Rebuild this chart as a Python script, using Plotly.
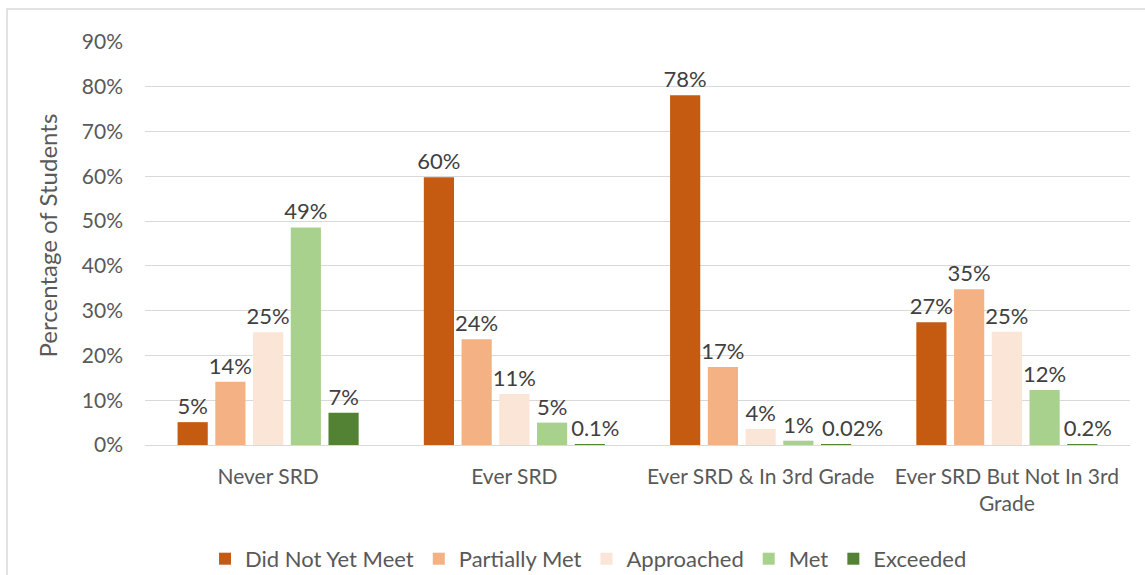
import plotly.graph_objects as go

categories = ["Never SRD", "Ever SRD", "Ever SRD & In 3rd Grade", "Ever SRD But Not In 3rd<br>Grade"]
series_names = ["Did Not Yet Meet", "Partially Met", "Approached", "Met", "Exceeded"]
did_not_yet_meet = [5.1, 59.8, 78.1, 27.4]
partially_met = [14.1, 23.6, 17.4, 34.8]
approached = [25.2, 11.4, 3.6, 25.3]
met = [48.6, 5.0, 0.96, 12.3]
exceeded = [7.2, 0.1, 0.02, 0.2]
tick_values = [0, 10, 20, 30, 40, 50, 60, 70, 80, 90]
tick_labels = ["0%", "10%", "20%", "30%", "40%", "50%", "60%", "70%", "80%", "90%"]

colors = ["#C55A11", "#F4B183", "#FBE5D6", "#A9D18E", "#548235"]
FONT = "Lato"


def label(v):
    # whole percents for larger shares; tiny shares keep their decimals and
    # are nudged right so they clear the neighbouring bar's label
    if round(v) >= 1:
        return f"{round(v):.0f}%"
    pad = "\u2002" if v >= 0.1 else "\u2002\u2002\u2002"
    if v >= 0.1:
        return f"{pad}{v:.1f}%"
    return f"{pad}{v:.2f}%"


fig = go.Figure()
for name, vals, col in zip(series_names,
                           [did_not_yet_meet, partially_met, approached, met, exceeded],
                           colors):
    fig.add_trace(go.Bar(
        name=name, x=categories, y=vals,
        marker=dict(color=col, line=dict(width=0)),
        text=[label(v) for v in vals],
        textposition="outside", cliponaxis=False, constraintext="none",
        textfont=dict(family=FONT, size=22, color="#404040"),
    ))

fig.update_layout(
    width=1145, height=575,
    margin=dict(l=145, r=15, t=42, b=130, autoexpand=False),
    paper_bgcolor="white", plot_bgcolor="white",
    barmode="group", bargap=0.234, bargroupgap=0.2,
    font=dict(family=FONT, color="#595959"),
    showlegend=True,
    legend=dict(orientation="h", xref="container", yref="container",
                x=0.514, xanchor="center", y=0.028, yanchor="middle",
                font=dict(family=FONT, size=22, color="#595959"),
                itemwidth=30, tracegroupgap=0, traceorder="normal"),
    xaxis=dict(showline=False, ticks="", automargin=False, ticklabelstandoff=17,
               tickfont=dict(family=FONT, size=21, color="#595959")),
    yaxis=dict(range=[0, 90], tickvals=tick_values, ticktext=tick_labels,
               showgrid=True, gridcolor="#D9D9D9", gridwidth=1.3,
               zeroline=True, zerolinecolor="#D9D9D9", zerolinewidth=1.3,
               ticks="", ticklabelstandoff=21, automargin=False,
               tickfont=dict(family=FONT, size=21, color="#595959")),
    shapes=[dict(type="rect", xref="paper", yref="paper",
                 x0=(7 - 145) / 985, x1=1.03, y0=-0.36, y1=(445 - 9) / 403,
                 line=dict(color="#D9D9D9", width=1.5), fillcolor="rgba(0,0,0,0)",
                 layer="below")],
    annotations=[dict(text="Percentage of Students", textangle=-90,
                      xref="paper", yref="paper", x=(47 - 145) / 985, y=0.52,
                      xanchor="center", yanchor="middle", showarrow=False,
                      font=dict(family=FONT, size=24, color="#595959"))],
)

fig.write_html("out.html")
